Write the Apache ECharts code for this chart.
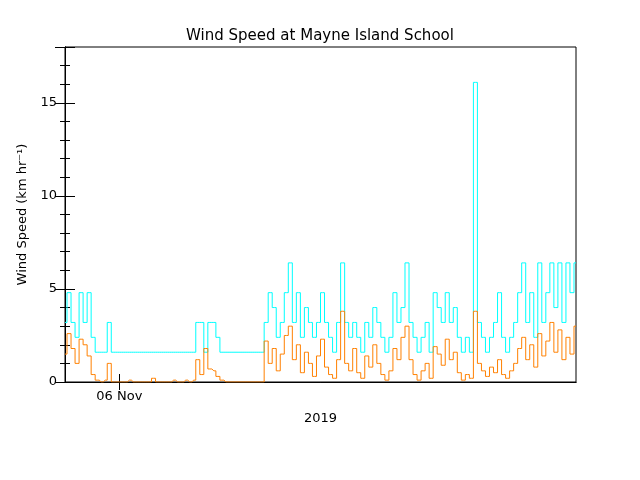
<!DOCTYPE html>
<html>
<head>
    <meta charset="utf-8">
    <title>Wind Speed</title>
    <script src="https://cdn.jsdelivr.net/npm/echarts@6/dist/echarts.min.js"></script>
</head>
<body style="margin:0;background:#fff">
    <div id="main" style="width:640px;height:480px;"></div>
    <script type="text/javascript">
        // gusts (cyan), one value per sample
        var gust = [
            3.2,4.8,3.2,2.4,4.8,3.2,4.8,
            2.4,1.6,1.6,1.6,
            3.2,
            1.6,1.6,1.6,1.6,1.6,1.6,1.6,1.6,1.6,1.6,1.6,1.6,1.6,1.6,1.6,1.6,1.6,1.6,1.6,1.6,1.6,
            3.2,3.2,1.6,3.2,3.2,2.4,1.6,
            1.6,1.6,1.6,1.6,1.6,1.6,1.6,1.6,1.6,1.6,
            3.2,4.8,4.0,2.4,3.2,4.8,6.4,3.2,4.8,2.4,4.0,3.2,2.4,3.2,4.8,3.2,2.4,1.6,3.2,6.4,3.2,
            2.4,3.2,2.4,1.6,3.2,2.4,4.0,3.2,2.4,1.6,2.4,4.8,3.2,4.0,
            6.4,
            3.2,2.4,1.6,2.4,3.2,1.6,4.8,4.0,3.2,4.8,3.2,4.0,2.4,1.6,
            2.4,1.6,
            16.1,
            3.2,2.4,1.6,2.4,3.2,4.8,2.4,1.6,
            2.4,3.2,4.8,6.4,3.2,4.8,2.4,6.4,3.2,4.8,6.4,4.0,6.4,3.2,6.4,4.8,6.4
        ];
        // mean wind speed (orange)
        var speed = [
            1.5,2.6,1.8,1.0,2.3,2.0,1.4,
            0.4,0.1,0,0.1,
            1.0,
            0,0,0,0,0.1,0,0,0,0,0,0.2,0,0,0,0,0.1,0,0,0.1,0,0.1,
            1.2,0.4,1.8,0.7,0.6,0.3,0.1,
            0,0,0,0,0,0,0,0,0,0,
            2.2,1.0,1.8,0.6,1.5,2.5,3.0,1.2,2.0,0.5,1.6,1.0,0.3,1.4,2.3,0.8,0.4,0.2,1.2,3.8,1.0,
            0.6,1.8,0.5,0.2,1.4,0.8,2.0,1.0,0.4,0.1,0.6,1.8,1.2,2.4,
            3.0,
            1.2,0.4,0.1,0.6,1.0,0.2,1.9,1.5,0.9,2.3,1.2,1.6,0.5,0.1,
            0.4,0.2,
            3.8,
            1.0,0.6,0.3,0.8,0.5,1.2,0.4,0.2,
            0.6,1.0,1.8,2.4,1.2,2.0,0.8,2.6,1.4,2.2,3.2,1.6,2.8,1.2,2.4,1.5,3.0
        ];
        var dateTicks = [13.5];
        var dateLabels = ["06 Nov"];

        function pairs(arr) {
            return arr.map(function (v, i) { return [i, v]; });
        }

        var font = 'DejaVu Sans';
        var myChart = echarts.init(document.getElementById("main"));
        var option = {
            animation: false,
            title: {
                left: 'center', top: 24,
                text: 'Wind Speed at Mayne Island School',
                textStyle: { fontFamily: font, fontWeight: 'normal', fontSize: 15, color: '#000' }
            },
            grid: { left: 65, right: 64, top: 47, bottom: 98, show: true, borderColor: '#000', borderWidth: 1 },
            xAxis: [{
                type: 'value', min: 0, max: 127,
                name: '2019', nameLocation: 'middle', nameGap: 30,
                nameTextStyle: { fontFamily: font, fontSize: 13, color: '#000' },
                splitLine: { show: false },
                axisLine: { lineStyle: { color: '#000' } },
                axisTick: { customValues: dateTicks, length: 8, inside: true, lineStyle: { color: '#000' } },
                axisLabel: {
                    customValues: dateTicks, fontFamily: font, fontSize: 13, color: '#000',
                    formatter: function (v) { return dateLabels[dateTicks.indexOf(v)] || ''; }
                }
            }, {
                type: 'value', min: 0, max: 127, position: 'top',
                splitLine: { show: false },
                axisLine: { show: true, lineStyle: { color: '#000' } },
                axisTick: { customValues: dateTicks, length: 8, inside: true, lineStyle: { color: '#000' } },
                axisLabel: { show: false }
            }],
            yAxis: [{
                type: 'value', min: 0, max: 18, interval: 5,
                name: 'Wind Speed (km hr\u207B\u00B9)', nameLocation: 'middle', nameGap: 32,
                nameTextStyle: { fontFamily: font, fontSize: 13, color: '#000' },
                splitLine: { show: false },
                axisLine: { show: true, lineStyle: { color: '#000' } },
                axisTick: { inside: true, length: 10, lineStyle: { color: '#000' } },
                minorTick: { show: true, splitNumber: 5, length: 5, lineStyle: { color: '#000' } },
                axisLabel: {
                    fontFamily: font, fontSize: 13, color: '#000', margin: 8, showMaxLabel: false,
                    formatter: function (v) { return v % 5 === 0 ? String(v) : ''; }
                }
            }, {
                type: 'value', min: 0, max: 18, interval: 5, position: 'right',
                splitLine: { show: false },
                axisLine: { show: true, lineStyle: { color: '#000' } },
                axisTick: { inside: true, length: 10, lineStyle: { color: '#000' } },
                minorTick: { show: true, splitNumber: 5, length: 5, lineStyle: { color: '#000' } },
                axisLabel: { show: false }
            }],
            series: [{
                name: 'gust', type: 'line', step: 'middle', showSymbol: false,
                data: pairs(gust),
                lineStyle: { color: '#00ffff', width: 1 }
            }, {
                name: 'speed', type: 'line', step: 'middle', showSymbol: false,
                data: pairs(speed),
                lineStyle: { color: '#ff8000', width: 1 }
            }]
        };
        myChart.setOption(option);
    </script>
</body>
</html>
